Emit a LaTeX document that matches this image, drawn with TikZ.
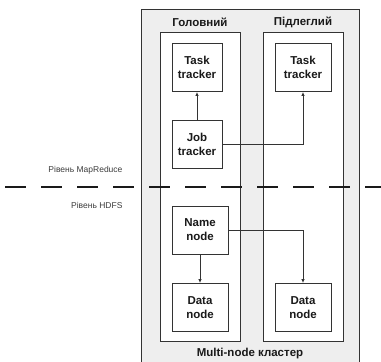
\documentclass[tikz,border=0pt]{standalone}
\usepackage{fontspec}
\setmainfont{Liberation Sans}
\usepackage{tikz}
\usetikzlibrary{arrows.meta}
\definecolor{cfill}{HTML}{EEEEEE}
\definecolor{cline}{HTML}{333333}
\definecolor{ctext}{HTML}{1A1A1A}

\begin{document}
\begin{tikzpicture}[x=1pt,y=-1pt,>={Latex[length=4pt,width=3.5pt]},
  box/.style={draw=cline,line width=0.9pt,fill=white,align=center,inner sep=0pt,
    text=ctext,font=\fontsize{11.5}{14}\selectfont\bfseries,minimum height=48pt},
  title/.style={text=ctext,font=\fontsize{11.5}{14}\selectfont\bfseries},
  layer/.style={text=ctext!85,font=\fontsize{8.5}{10}\selectfont,anchor=east},
  link/.style={->,line width=0.8pt,cline}]
  \useasboundingbox (0,0) rectangle (381,362);
  % ---- cluster frame (runs off the bottom edge) ----
  \fill[cfill] (141,9) rectangle (359,366);
  \draw[cline,line width=1pt] (141,366) |- (359,9) -- (359,366);
  \node[title] (cluster) at (250,354) {Multi-node кластер};
  % ---- master / slave frames ----
  \draw[cline,line width=1pt,fill=white] (160,32) rectangle (240,341);
  \draw[cline,line width=1pt,fill=white] (263,32) rectangle (343,341);
  \node[title] (master) at (200,22) {Головний};
  \node[title] (slave) at (303,22) {Підлеглий};
  % ---- MapReduce level ----
  \node[box,minimum width=50pt] (tt1) at (197,67.5) {Task\\tracker};
  \node[box,minimum width=50pt] (jt) at (197,144) {Job\\tracker};
  \node[box,minimum width=56pt] (tt2) at (303,67.5) {Task\\tracker};
  \draw[link] (jt) -- (tt1);
  \draw[link] (jt.east) -| (tt2.south);
  % ---- HDFS level ----
  \node[box,minimum width=56pt] (nn) at (200,230) {Name\\node};
  \node[box,minimum width=56pt] (dn1) at (200,307.5) {Data\\node};
  \node[box,minimum width=56pt] (dn2) at (303,307.5) {Data\\node};
  \draw[link] (nn) -- (dn1);
  \draw[link] (nn.east) -| (dn2.north);
  % ---- level split ----
  \node[layer] (mr) at (126,170) {Рівень MapReduce};
  \node[layer] (hdfs) at (126,205) {Рівень HDFS};
  \draw[ctext,line width=2pt,dash pattern=on 21pt off 15pt] (5,187) -- (381,187);
\end{tikzpicture}
\end{document}
